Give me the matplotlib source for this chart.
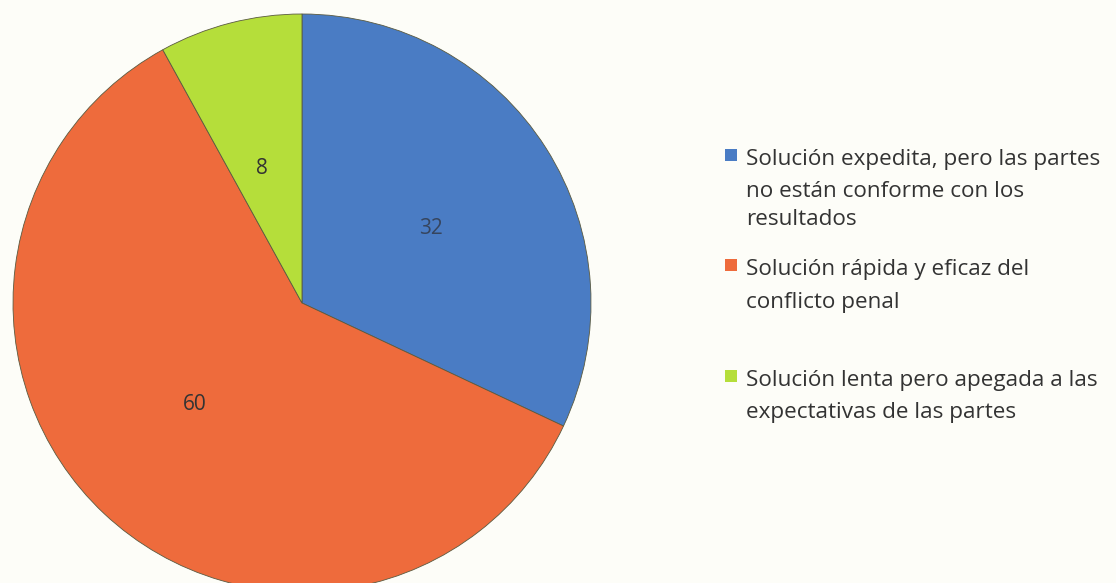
import matplotlib
matplotlib.use("Agg")
import matplotlib.pyplot as plt
from matplotlib.patches import Rectangle

values = [32, 60, 8]
labels = [
    "Solución expedita, pero las partes\nno están conforme con los\nresultados",
    "Solución rápida y eficaz del\nconflicto penal",
    "Solución lenta pero apegada a las\nexpectativas de las partes",
]
colors = ["#4A7CC4", "#EE6B3C", "#B5DE3A"]

# y of each legend text line (pixels from top)
legend_lines = [[157, 189, 217], [267, 300], [378, 410]]

plt.rcParams['font.family'] = ['Open Sans', 'DejaVu Sans']

W, H = 1116, 583
fig = plt.figure(figsize=(W / 100, H / 100), dpi=100)
fig.patch.set_facecolor("#FDFDF8")

# pie centre (302, 303) px, radius 289 px
r = 289
cx, cy = 302, 303
ax = fig.add_axes([(cx - r) / W, (H - cy - r) / H, 2 * r / W, 2 * r / H])

wedges, texts = ax.pie(values, colors=colors, startangle=90, counterclock=False,
                       radius=1, labels=[str(v) for v in values], labeldistance=0.48,
                       wedgeprops=dict(edgecolor="#5a5a40", linewidth=0.6),
                       textprops=dict(fontsize=15, color="#333333"),
                       frame=False)
ax.set_xlim(-1, 1)
ax.set_ylim(-1, 1)
ax.axis("off")
for w in wedges:
    w.set_clip_on(False)
texts[0].set_color("#36455e")

for lab, col, ys in zip(labels, colors, legend_lines):
    fig.add_artist(Rectangle((725 / W, (H - ys[0] + 2 - 5.5) / H), 12 / W, 12 / H,
                             transform=fig.transFigure, facecolor=col, edgecolor="none"))
    for line, y in zip(lab.split("\n"), ys):
        fig.text(746 / W, (H - y) / H, line, fontsize=16.2,
                 color="#333333", va="center_baseline", ha="left")

fig.savefig("out.png", dpi=100, facecolor=fig.get_facecolor())
